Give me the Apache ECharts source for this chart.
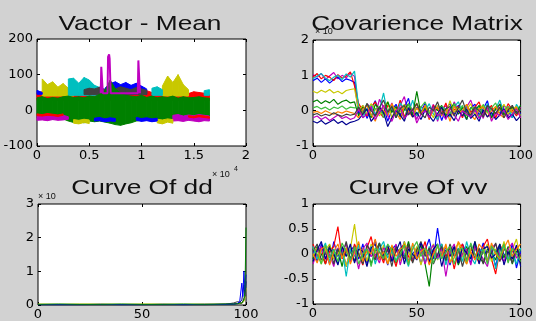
<!DOCTYPE html>
<html>
<head>
<meta charset="utf-8">
<script src="https://cdn.jsdelivr.net/npm/echarts@6/dist/echarts.min.js"></script>
<style>
  html, body { margin: 0; padding: 0; background: #d2d2d2; }
  #chart { width: 536px; height: 321px; }
</style>
</head>
<body>
<div id="chart"></div>
<script>
// ---- Vactor - Mean (x in samples, shown as x10^4) ----
const vmX = [0,500,1000,1500,2000,2500,3000,3500,4000,4500,5000,5500,6000,6500,7000,7500,8000,8500,9000,9500,10000,10500,11000,11500,12000,12500,13000,13500,14000,14500,15000,15500,16000,16500];
// upper / lower edges of the coloured masses
const redHi    = [48,52,45,50,55,47,52,45,50,48,55,50,58,52,55,60,52,50,56,48,62,55,50,58,52,48,55,50,53,47,52,50,48,45];
const yellowHi = [null,88,72,80,65,75,62,58,null,null,null,null,null,null,null,null,null,null,null,null,null,null,null,null,68,96,78,100,72,58,null,null,null,null];
const cyanHi   = [null,null,null,null,null,null,88,90,76,92,85,70,64,58,74,66,null,null,null,null,null,null,62,66,58,null,null,null,null,null,null,null,55,58];
const blueHi   = [56,50,null,null,null,null,null,null,null,null,null,null,null,62,75,80,72,78,70,76,68,60,null,null,null,null,null,null,null,null,null,null,null,null];
const grayHi   = [null,null,null,null,null,null,null,null,null,58,62,60,65,58,63,60,66,62,58,64,60,56,null,null,null,null,null,null,null,null,null,null,null,null];
const greenHi  = [35,38,33,36,34,38,40,36,38,35,40,38,45,55,85,60,48,42,40,38,42,36,40,35,38,36,40,34,38,35,36,38,35,34];
const greenLo  = [-22,-24,-22,-25,-23,-24,-30,-34,-32,-35,-30,-32,-30,-33,-36,-40,-42,-38,-35,-30,-28,-26,-30,-28,-26,-27,-24,-25,-24,-26,-25,-24,-25,-26];
const magLowHi = [-14,-16,-13,-15,-17,-14,-18,null,null,null,null,null,null,null,null,null,null,null,null,null,null,null,null,null,null,null,-14,-12,-16,-13,-15,-12,-14,-16];
const magLowLo = [-28,-27,-29,-26,-28,-27,-25,null,null,null,null,null,null,null,null,null,null,null,null,null,null,null,null,null,null,null,-30,-29,-31,-28,-30,-32,-29,-30];
const redLowHi = [-10,-12,-9,-11,-13,-10,null,null,null,null,null,null,null,null,null,null,null,null,null,null,null,null,null,null,null,null,null,null,null,-15,-17,-14,-16,-18];
const redLowLo = [-15,-16,-14,-15,-17,-14,null,null,null,null,null,null,null,null,null,null,null,null,null,null,null,null,null,null,null,null,null,null,null,-19,-21,-18,-20,-22];
const yelLowHi = [null,null,null,null,null,null,null,-26,-28,-25,-27,null,null,null,null,null,null,null,null,null,null,null,null,-25,-27,-24,-26,null,null,null,null,null,null,null];
const yelLowLo = [null,null,null,null,null,null,null,-36,-38,-34,-37,null,null,null,null,null,null,null,null,null,null,null,null,-35,-38,-33,-36,null,null,null,null,null,null,null];
const bluLowHi = [null,null,null,null,null,null,null,null,null,null,null,-22,-20,-24,-21,-23,null,null,null,-20,-23,-21,-24,-22,null,null,null,null,null,null,null,null,null,null];
const bluLowLo = [null,null,null,null,null,null,null,null,null,null,null,-30,-29,-32,-30,-31,null,null,null,-28,-31,-29,-32,-30,null,null,null,null,null,null,null,null,null,null];
const magSpikeX = [6100,6150,6250,6300,6750,6800,6900,6950,7050,9650,9700,9800,9850];
const magSpikeY = [48,122,126,48,48,150,157,145,48,48,140,138,48];

// ---- shared x for the 0..100 panels ----
const stepX = [0,2,4,6,8,10,12,14,16,18,20,22,24,26,28,30,32,34,36,38,40,42,44,46,48,50,52,54,56,58,60,62,64,66,68,70,72,74,76,78,80,82,84,86,88,90,92,94,96,98,100];

// ---- Covarience Matrix ----
const cov1  = [1.02,0.95,1.05,0.88,0.98,1.08,0.9,1.0,0.93,1.06,0.97,0.05,-0.12,0.2,0.08,-0.15,0.32,0.1,-0.05,0.22,-0.2,0.15,0.4,-0.1,0.05,-0.25,0.12,0.02,-0.08,0.18,-0.3,0.06,0.14,-0.12,0.25,0.0,-0.18,0.1,0.3,-0.05,0.08,-0.22,0.15,0.02,-0.1,0.2,0.05,-0.15,0.12,-0.05,0.1];
const cov2  = [0.85,0.92,0.8,0.9,0.78,0.88,0.95,0.82,0.9,0.86,0.8,-0.1,0.15,-0.22,0.05,0.28,-0.08,0.12,-0.3,0.02,0.18,-0.12,0.08,0.35,-0.15,0.1,-0.05,0.22,-0.2,0.0,0.12,-0.28,0.05,0.2,-0.1,0.15,-0.02,-0.25,0.08,0.18,-0.12,0.05,0.28,-0.18,0.1,-0.08,0.15,0.0,-0.2,0.12,-0.1];
const cov3  = [0.95,1.05,0.9,1.0,0.95,0.85,1.02,0.92,0.98,1.1,0.7,0.2,0.0,-0.15,0.1,0.25,-0.05,-0.2,0.15,0.05,-0.1,0.3,-0.18,0.08,0.0,0.2,-0.12,0.1,-0.25,0.15,0.05,-0.08,0.22,-0.15,0.02,0.12,-0.2,0.18,-0.05,0.1,0.25,-0.12,0.0,0.15,-0.2,0.08,-0.1,0.2,0.02,-0.15,0.05];
const cov4  = [0.9,0.98,1.05,0.92,0.85,0.95,1.0,0.88,1.04,0.95,1.12,0.1,-0.2,0.05,0.18,-0.1,0.02,0.5,-0.12,0.1,-0.2,0.22,0.05,-0.08,0.3,-0.15,0.1,0.0,0.2,-0.1,-0.25,0.12,0.05,-0.18,0.1,0.25,-0.05,0.15,-0.2,0.02,0.12,-0.1,0.2,-0.15,0.05,0.3,-0.08,0.1,-0.2,0.18,0.0];
const cov5  = [0.55,0.5,0.58,0.52,0.6,0.5,0.55,0.48,0.57,0.6,0.62,0.0,0.15,-0.1,0.2,0.05,-0.15,0.1,0.25,-0.2,0.08,-0.05,0.18,0.02,-0.12,0.22,-0.08,0.12,0.0,-0.2,0.15,0.05,-0.1,0.28,-0.05,0.1,-0.15,0.02,0.2,-0.12,0.08,0.15,-0.05,-0.22,0.1,0.0,0.18,-0.1,0.05,0.12,-0.15];
const cov6  = [0.25,0.3,0.2,0.28,0.22,0.32,0.18,0.26,0.3,0.22,0.25,-0.15,0.1,0.02,-0.2,0.18,0.05,-0.1,0.25,-0.05,0.12,-0.18,0.02,0.2,-0.12,0.55,-0.1,0.08,-0.2,0.12,0.0,0.15,-0.15,0.05,0.2,-0.1,0.1,-0.25,0.08,0.0,0.15,-0.08,0.12,-0.2,0.05,0.18,-0.12,0.02,0.1,-0.05,0.15];
const cov7  = [0.08,0.12,0.05,0.1,0.02,0.1,0.06,0.13,0.04,0.1,0.08,0.1,-0.05,0.2,-0.15,0.05,0.12,-0.2,0.0,0.15,-0.1,0.08,-0.25,0.18,0.02,-0.12,0.1,0.25,-0.08,0.05,-0.18,0.12,0.0,-0.1,0.2,-0.05,0.15,-0.15,0.05,0.1,-0.2,0.18,-0.05,0.08,0.22,-0.12,0.0,0.12,-0.08,0.05,-0.15];
const cov8  = [-0.05,-0.02,-0.08,0.0,-0.06,-0.1,-0.03,-0.07,-0.01,-0.05,-0.08,-0.2,0.05,0.15,-0.1,-0.3,0.1,0.0,-0.15,0.2,-0.05,-0.25,0.12,-0.02,-0.18,0.08,-0.1,0.15,-0.22,0.02,0.1,-0.15,0.05,-0.3,0.12,-0.05,0.0,0.18,-0.12,-0.25,0.05,0.1,-0.18,0.0,0.12,-0.1,-0.2,0.08,-0.05,0.1,-0.2];
const cov9  = [-0.3,-0.35,-0.28,-0.38,-0.32,-0.25,-0.36,-0.3,-0.4,-0.33,-0.3,-0.25,-0.1,0.05,-0.3,-0.15,0.1,-0.05,-0.45,-0.2,0.0,-0.12,-0.3,0.08,-0.18,-0.05,-0.25,0.02,-0.15,-0.3,-0.08,0.1,-0.2,-0.1,-0.28,0.0,-0.15,0.05,-0.22,-0.1,-0.3,0.02,-0.18,-0.05,-0.25,-0.12,0.05,-0.2,-0.1,-0.28,-0.15];
const cov10 = [-0.2,-0.15,-0.25,-0.18,-0.28,-0.2,-0.12,-0.22,-0.17,-0.25,-0.2,0.05,-0.2,-0.1,0.12,-0.25,-0.05,0.15,-0.15,-0.3,0.0,0.1,-0.22,-0.08,0.05,-0.35,-0.1,0.0,-0.2,0.12,-0.15,-0.05,-0.25,0.08,-0.12,-0.3,0.0,-0.1,-0.18,0.05,-0.22,-0.08,0.1,-0.3,-0.05,-0.15,0.02,-0.25,-0.1,0.05,-0.2];
const cov11 = [-0.12,-0.08,-0.15,-0.1,-0.14,-0.06,-0.12,-0.16,-0.1,-0.13,-0.1,0.1,-0.1,0.2,0.0,-0.15,0.08,0.3,-0.05,0.12,-0.2,0.05,0.15,-0.12,0.02,0.2,-0.08,-0.2,0.1,0.0,0.25,-0.1,0.05,0.12,-0.15,0.08,0.3,-0.05,-0.12,0.1,0.0,-0.18,0.15,0.05,-0.08,0.1,-0.2,0.02,0.15,-0.1,0.05];

// ---- Curve Of dd ----
const ddX      = [0,10,20,30,40,50,60,70,80,90,94,96,97,98,98.5,99,99.5,100];
const ddYellow = [0.03,0.02,0.03,0.03,0.02,0.03,0.03,0.02,0.03,0.03,0.04,0.04,0.05,0.05,0.06,0.1,0.2,0.5];
const ddGray   = [0.01,0.01,0.01,0.01,0.01,0.01,0.01,0.01,0.01,0.02,0.06,0.1,0.08,0.05,0.12,0.2,0.15,0.3];
const ddNavy   = [0.01,0.01,0.01,0.01,0.01,0.01,0.01,0.01,0.01,0.02,0.02,0.04,0.08,0.15,0.1,0.6,0.3,0.7];
const ddBlue   = [0.01,0.01,0.01,0.02,0.01,0.01,0.02,0.01,0.02,0.02,0.03,0.05,0.12,0.65,0.25,1.0,0.45,0.9];
const ddGreen  = [0.02,0.03,0.02,0.02,0.03,0.02,0.02,0.03,0.02,0.03,0.03,0.04,0.05,0.06,0.08,0.15,0.4,2.3];

// ---- Curve Of vv ----
const vv1  = [0.1,-0.15,0.2,0.05,-0.2,0.25,-0.05,0.12,-0.25,0.08,0.15,-0.1,0.2,-0.18,0.02,0.28,-0.12,0.05,-0.22,0.1,0.18,-0.08,0.25,-0.15,0.0,0.12,-0.2,0.08,0.3,-0.1,0.52,-0.05,0.15,-0.22,0.1,-0.12,0.2,0.02,-0.18,0.12,-0.05,0.22,-0.15,0.08,-0.25,0.15,0.0,-0.12,0.2,-0.28,0.05];
const vv2  = [-0.1,0.15,0.0,-0.2,0.18,-0.05,0.1,-0.25,0.12,0.05,-0.15,0.2,-0.08,0.1,-0.2,0.05,0.22,-0.12,0.0,0.15,-0.18,0.08,-0.05,0.25,-0.1,0.02,0.18,-0.2,-0.65,0.1,-0.05,0.2,-0.15,0.05,0.12,-0.22,0.0,0.15,-0.1,0.25,-0.05,-0.18,0.1,0.02,-0.12,0.2,-0.08,0.15,-0.2,0.05,0.1];
const vv3  = [0.2,-0.05,0.1,-0.2,0.05,0.15,0.55,-0.1,0.08,-0.15,0.2,0.0,-0.22,0.12,0.35,-0.08,0.05,-0.18,0.15,0.02,-0.25,0.1,0.2,-0.05,-0.15,0.12,0.0,0.25,-0.2,0.08,-0.1,0.18,-0.05,0.12,-0.3,0.05,0.2,-0.12,0.1,0.0,-0.18,0.15,0.3,-0.1,-0.4,0.08,0.2,-0.15,0.05,0.12,-0.08];
const vv4  = [-0.05,0.12,-0.2,0.08,0.2,-0.1,0.0,0.15,-0.25,0.1,0.6,-0.05,0.12,-0.15,0.2,0.05,-0.1,0.18,-0.2,0.0,0.1,-0.15,0.25,0.02,-0.08,0.15,-0.22,0.1,0.0,0.2,-0.12,0.05,0.15,-0.18,0.08,0.22,-0.05,-0.2,0.1,0.15,-0.1,0.02,0.2,-0.15,0.1,-0.05,0.25,-0.12,0.08,0.3,-0.1];
const vv5  = [0.15,-0.1,0.05,0.22,-0.15,0.08,-0.2,0.12,-0.45,0.1,-0.05,0.18,-0.12,0.0,0.15,-0.2,0.1,0.25,-0.08,0.05,-0.15,0.12,0.0,-0.25,0.2,-0.05,0.1,-0.18,0.15,0.02,-0.1,0.2,-0.22,0.08,0.0,0.12,-0.15,0.25,-0.05,-0.2,0.1,0.05,-0.12,0.18,-0.3,0.08,0.15,-0.1,0.0,-0.2,0.12];
const vv6  = [-0.2,0.05,0.15,-0.1,0.0,-0.25,0.12,0.05,0.2,-0.15,0.08,-0.3,0.1,0.22,-0.05,0.0,-0.18,0.12,0.05,-0.1,0.2,-0.22,0.08,0.15,-0.12,0.0,0.1,-0.2,0.05,0.18,-0.08,0.12,-0.45,0.05,0.2,-0.15,0.0,0.1,-0.22,0.15,0.05,-0.1,-0.25,0.12,0.2,-0.05,-0.15,0.1,0.22,-0.08,0.0];
const vv7  = [0.05,0.2,-0.12,0.0,0.15,-0.2,0.1,-0.05,0.25,-0.1,0.12,0.0,-0.2,0.18,0.05,-0.12,0.22,-0.05,0.1,-0.25,0.15,0.02,-0.1,0.2,-0.18,0.08,0.25,-0.05,0.12,-0.2,0.0,0.15,-0.12,0.2,-0.05,0.1,-0.25,0.05,0.18,-0.1,0.12,-0.2,0.05,0.0,0.22,-0.15,0.1,0.02,-0.18,0.15,-0.05];
const vv8  = [-0.15,0.08,0.25,-0.1,0.12,0.0,-0.22,0.15,-0.05,0.2,-0.18,0.1,0.05,-0.25,0.12,0.2,-0.1,0.0,0.18,-0.15,0.05,0.25,-0.2,0.1,0.0,-0.12,0.22,0.05,-0.15,0.1,0.2,-0.25,0.08,-0.05,0.15,-0.18,0.12,0.02,-0.1,0.25,-0.2,0.1,0.15,-0.08,0.0,0.2,-0.22,0.05,-0.1,0.18,-0.25];
const vv9  = [0.0,-0.18,0.1,0.15,-0.22,0.05,0.2,-0.08,0.12,-0.2,0.02,0.25,-0.15,0.08,0.0,0.3,-0.12,0.05,-0.2,0.18,-0.05,0.1,0.15,-0.18,0.22,-0.1,0.05,0.12,-0.22,0.0,0.15,-0.05,0.2,-0.15,-0.08,0.25,0.1,-0.2,0.05,-0.12,0.2,0.08,-0.15,0.22,0.0,-0.1,0.12,0.28,-0.05,0.1,0.2];
const vv10 = [0.12,0.0,-0.2,0.18,-0.08,0.1,-0.15,0.22,0.05,-0.12,0.15,-0.2,0.0,0.1,-0.25,0.12,0.05,-0.1,0.2,0.08,-0.15,0.0,0.18,-0.22,0.1,0.25,-0.05,0.12,0.0,-0.18,0.2,-0.1,0.05,0.15,-0.2,0.08,0.12,-0.15,0.22,0.0,-0.12,0.1,-0.2,0.15,0.05,-0.08,0.2,-0.18,0.12,0.0,-0.15];

const C = {
  blue: '#0000ff', green: '#008000', red: '#ff0000', cyan: '#00bfbf', magenta: '#bf00bf',
  yellow: '#c8c800', gray: '#404040', navy: '#000090', orange: '#ff8000', lime: '#40c040'
};

const grids = [
  { left: 37, top: 39, width: 209, height: 107 },
  { left: 313, top: 40, width: 212, height: 106 },
  { left: 38, top: 204, width: 208, height: 101 },
  { left: 313, top: 204, width: 212, height: 100 }
];
const xRange = [[0, 20000, 5000], [0, 100, 50], [0, 100, 50], [0, 100, 50]];
const yRange = [[-100, 200, 100], [-1, 2, 1], [0, 3, 1], [-1, 1, 0.5]];

const labelFont = { fontFamily: 'DejaVu Sans', fontSize: 13, color: '#000' };
const tick = { show: true, inside: true, length: 3, lineStyle: { color: '#000', width: 1 } };

const xAxis = [], yAxis = [];
for (let side = 0; side < 2; side++) {
  grids.forEach((g, i) => {
    xAxis.push({
      type: 'value', gridIndex: i, position: side ? 'top' : 'bottom',
      min: xRange[i][0], max: xRange[i][1], interval: xRange[i][2],
      axisLine: { show: false, onZero: false }, axisTick: tick, splitLine: { show: false },
      axisLabel: side ? { show: false } : Object.assign({
        margin: 3, showMinLabel: true, showMaxLabel: true,
        formatter: i === 0 ? (v) => String(v / 10000) : null
      }, labelFont)
    });
    yAxis.push({
      type: 'value', gridIndex: i, position: side ? 'right' : 'left',
      min: yRange[i][0], max: yRange[i][1], interval: yRange[i][2],
      axisLine: { show: false, onZero: false }, axisTick: tick, splitLine: { show: false },
      axisLabel: side ? { show: false } : Object.assign({ margin: 4, showMinLabel: true, showMaxLabel: true }, labelFont)
    });
  });
}

function line(g, xs, ys, color, width) {
  return {
    type: 'line', xAxisIndex: g, yAxisIndex: g, symbol: 'none', silent: true,
    data: xs.map((x, i) => [x, ys[i] == null ? '-' : ys[i]]),
    lineStyle: { color, width: width || 1.2 }, itemStyle: { color }
  };
}

// a filled mass between lo and hi: one quad per step, placed with the axis scales
function band(g, xs, lo, hi, color) {
  const loAt = (i) => (Array.isArray(lo) ? lo[i] : lo);
  const ok = (i) => i < xs.length && hi[i] != null && loAt(i) != null;
  return [{
    type: 'custom', xAxisIndex: g, yAxisIndex: g, silent: true,
    data: xs.map((x, i) => [x, ok(i) ? loAt(i) : null, ok(i) ? hi[i] : null]),
    renderItem(params, api) {
      const i = params.dataIndex;
      if (!ok(i) || !ok(i + 1)) return null;
      const pts = [
        api.coord([xs[i], loAt(i)]), api.coord([xs[i + 1], loAt(i + 1)]),
        api.coord([xs[i + 1], hi[i + 1]]), api.coord([xs[i], hi[i]])
      ];
      return { type: 'polygon', shape: { points: pts }, style: { fill: color, stroke: color, lineWidth: 1 } };
    }
  }];
}

const series = [].concat(
  band(0, vmX, 28, redHi, C.red),
  band(0, vmX, 40, yellowHi, C.yellow),
  band(0, vmX, 42, cyanHi, C.cyan),
  [line(0, magSpikeX, magSpikeY, C.magenta, 2)],
  band(0, vmX, 45, blueHi, C.blue),
  band(0, vmX, 44, grayHi, C.gray),
  band(0, vmX, greenLo, greenHi, C.green),
  band(0, vmX, magLowLo, magLowHi, C.magenta),
  band(0, vmX, redLowLo, redLowHi, C.red),
  band(0, vmX, yelLowLo, yelLowHi, C.yellow),
  band(0, vmX, bluLowLo, bluLowHi, C.blue),

  [
    line(1, stepX, cov1, C.magenta), line(1, stepX, cov2, C.blue), line(1, stepX, cov3, C.red),
    line(1, stepX, cov4, C.cyan), line(1, stepX, cov5, C.yellow), line(1, stepX, cov6, C.green),
    line(1, stepX, cov7, C.lime), line(1, stepX, cov8, C.orange), line(1, stepX, cov9, C.navy),
    line(1, stepX, cov10, C.magenta), line(1, stepX, cov11, C.gray),

    line(2, ddX, ddYellow, C.yellow, 1), line(2, ddX, ddGray, C.gray, 1), line(2, ddX, ddNavy, C.navy, 1),
    line(2, ddX, ddBlue, C.blue, 1), line(2, ddX, ddGreen, C.green, 1),

    line(3, stepX, vv1, C.blue), line(3, stepX, vv2, C.green), line(3, stepX, vv3, C.red),
    line(3, stepX, vv4, C.yellow), line(3, stepX, vv5, C.cyan), line(3, stepX, vv6, C.magenta),
    line(3, stepX, vv7, C.gray), line(3, stepX, vv8, C.navy), line(3, stepX, vv9, C.orange),
    line(3, stepX, vv10, C.lime)
  ]
);

function txt(text, x, y, size, opts) {
  return Object.assign({
    type: 'text', x, y, z: 100, silent: true,
    style: {
      text, fontFamily: 'Liberation Sans', fontSize: size, fill: '#111',
      align: 'left', verticalAlign: 'middle', textAlign: 'left', textVerticalAlign: 'middle'
    }
  }, opts || {});
}
function title(text, cx, cy) {
  const t = txt(text, cx, cy, 21, { scaleX: 1.25 });
  t.style.align = t.style.textAlign = 'center';
  return t;
}

const chart = echarts.init(document.getElementById('chart'));
chart.setOption({
  animation: false,
  backgroundColor: '#d2d2d2',
  grid: grids.map((g) => Object.assign({ show: true, backgroundColor: '#fff', borderColor: '#000', borderWidth: 1 }, g)),
  xAxis, yAxis, series,
  graphic: [
    txt('× 10', 212, 175, 9), txt('4', 234, 169, 7),
    txt('× 10', 315, 32, 9),
    txt('× 10', 38, 197, 9),
    title('Vactor - Mean', 140, 24),
    title('Covarience Matrix', 417, 24),
    title('Curve Of dd', 142, 188),
    title('Curve Of vv', 418, 188)
  ]
});
</script>
</body>
</html>
